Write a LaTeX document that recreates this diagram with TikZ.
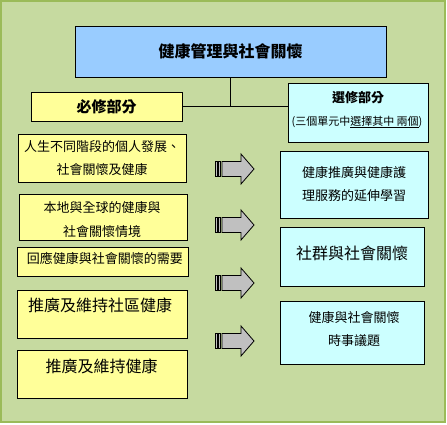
\documentclass[tikz,border=0pt]{standalone}
\usepackage{fontspec}
\setmainfont{Noto Sans CJK TC}
\definecolor{bgtop}{RGB}{198,218,160}
\definecolor{bgmid}{RGB}{160,192,104}
\definecolor{bgedge}{RGB}{155,187,89}
\definecolor{titlefill}{RGB}{153,204,255}
\definecolor{yelfill}{RGB}{255,255,153}
\definecolor{cyanfill}{RGB}{204,255,255}
\definecolor{arrowgray}{RGB}{192,192,192}
\tikzset{
  boxbase/.style={draw=black, line width=1pt, inner sep=0pt, align=center},
  titlebox/.style={boxbase, fill=titlefill},
  yelbox/.style={boxbase, fill=yelfill},
  cyanbox/.style={boxbase, fill=cyanfill},
  txt/.style={inner sep=0pt, align=center},
  link/.style={draw=black, line width=1pt},
  striparrow/.pic={
    \path[draw=black, line width=0.8pt, fill=arrowgray]
      (0,-7.5) rectangle (2,7.5);
    \path[draw=black, line width=0.8pt, fill=arrowgray]
      (3.5,-7.5) rectangle (5.5,7.5);
    \path[draw=black, line width=0.8pt, fill=arrowgray]
      (7,-7.5) -- (26,-7.5) -- (26,-15) -- (39,0) -- (26,15) -- (26,7.5) -- (7,7.5) -- cycle;
  }
}
\begin{document}
\begin{tikzpicture}[x=1pt, y=-1pt]
\useasboundingbox (0,0) rectangle (447,424);
% background
\shade[top color=bgtop, middle color=bgmid, bottom color=bgtop] (1,1) rectangle (445,422);
\draw[bgedge, line width=1.5pt] (1,1) rectangle (445,422);

% title
\node[titlebox, minimum width=311pt, minimum height=51pt,
      font=\fontsize{16}{18}\selectfont\bfseries] (title) at (230.5,51.5) {健康管理與社會關懷};

% compulsory header
\node[yelbox, minimum width=151pt, minimum height=29pt,
      font=\fontsize{15}{17}\selectfont\bfseries] (bixiu) at (106.5,106.5) {必修部分};

% elective header
\node[cyanbox, minimum width=140pt, minimum height=59pt] (xuanxiu) at (358,112.5) {};
\node[txt, font=\fontsize{13}{15}\selectfont\bfseries] (xuanxiut) at (358,98) {選修部分};
\node[txt, font=\fontsize{11}{13}\selectfont] (xuanxiusub) at (357,122) {(三個單元中\underline{選擇其中 兩個})};

% connectors
\draw[link] (title.south) -- (title.south |- bixiu.east);
\draw[link] (bixiu.east) -- (bixiu.east -| xuanxiu.west);

% left boxes
\node[yelbox, minimum width=168pt, minimum height=48pt,
      font=\fontsize{13}{23}\selectfont] (l1) at (102,158) {人生不同階段的個人發展、\\社會關懷及健康};
\node[yelbox, minimum width=168pt, minimum height=46pt] (l2) at (103,217) {};
\node[txt, font=\fontsize{13}{24}\selectfont] (l2t) at (102,220) {本地與全球的健康與\\社會關懷情境};
\node[yelbox, minimum width=171pt, minimum height=29pt] (l3) at (102.5,261.5) {};
\node[txt, font=\fontsize{13}{15}\selectfont] (l3t) at (105,258.5) {回應健康與社會關懷的需要};
\node[yelbox, minimum width=170pt, minimum height=48pt] (l4) at (102,314) {};
\node[txt, font=\fontsize{16}{18}\selectfont] (l4t) at (100,305) {推廣及維持社區健康};
\node[yelbox, minimum width=170pt, minimum height=48pt] (l5) at (102,374) {};
\node[txt, font=\fontsize{16}{18}\selectfont] (l5t) at (101.5,366) {推廣及維持健康};

% arrows
\pic at (215,169) {striparrow};
\pic at (215,225) {striparrow};
\pic at (215,283) {striparrow};
\pic at (215,341) {striparrow};

% right boxes
\node[cyanbox, minimum width=148pt, minimum height=67pt,
      font=\fontsize{13}{23}\selectfont] (r1) at (354,184.5) {健康推廣與健康護\\理服務的延伸學習};
\node[cyanbox, minimum width=144pt, minimum height=59pt] (r2) at (352,256.5) {};
\node[txt, font=\fontsize{16}{18}\selectfont] (r2t) at (352,253) {社群與社會關懷};
\node[cyanbox, minimum width=144pt, minimum height=63pt] (r3) at (352,332.5) {};
\node[txt, font=\fontsize{13}{23}\selectfont] (r3t) at (354,329.5) {健康與社會關懷\\時事議題};
\end{tikzpicture}
\end{document}
